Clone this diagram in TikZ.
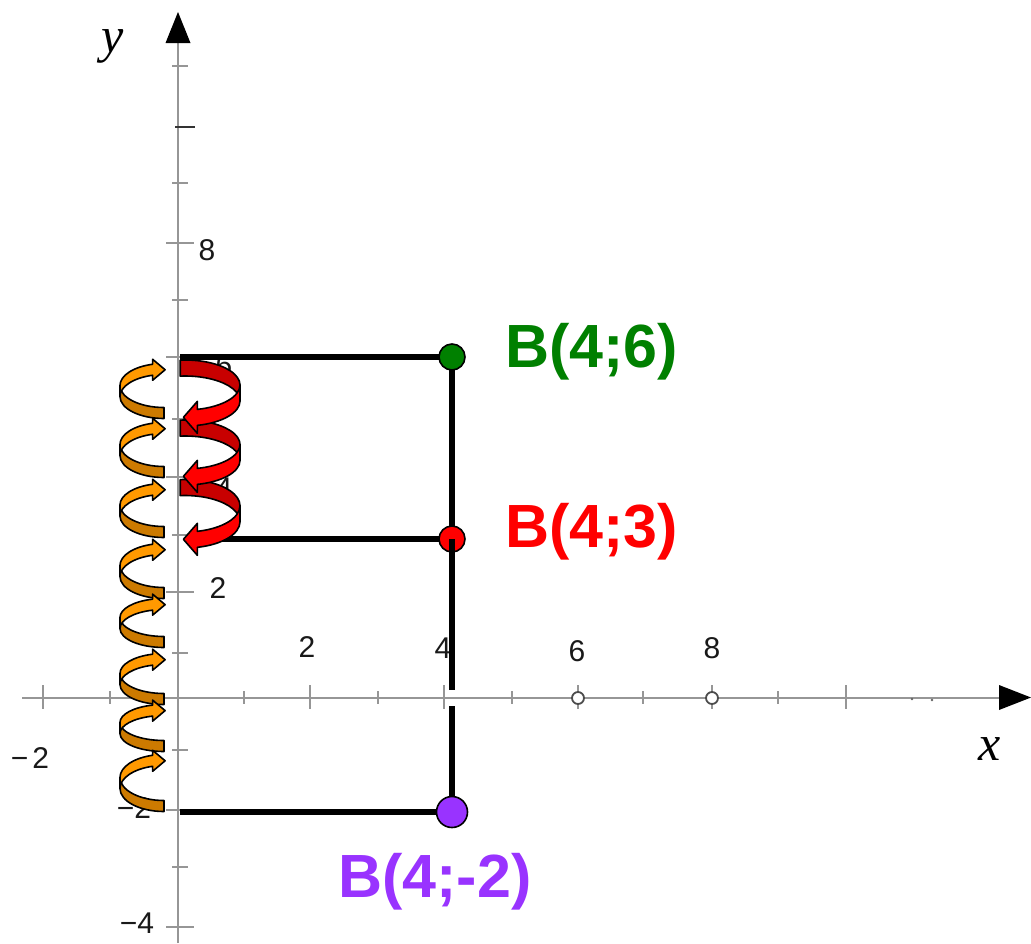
\documentclass[tikz,border=0pt]{standalone}
\usepackage{fontspec}
\setmainfont{Liberation Sans}
\newfontfamily\serifit{Liberation Serif}
\usetikzlibrary{calc}
\definecolor{orL}{RGB}{255,153,0}
\definecolor{orD}{RGB}{204,122,0}
\definecolor{rdD}{RGB}{200,0,0}
\definecolor{rdL}{RGB}{255,0,0}
\definecolor{grn}{RGB}{0,128,0}
\definecolor{purp}{RGB}{153,51,255}
\definecolor{axgray}{RGB}{150,150,150}
\tikzset{
 axisline/.style={draw=axgray, line width=2},
 tickline/.style={draw=axgray, line width=2},
 segline/.style={draw=black, line width=5.5},
 arrline/.style={draw=black, line width=1.6, line join=round},
 dot/.style={circle, draw=black, line width=1.6, inner sep=0pt},
 ticklab/.style={font=\fontsize{30}{30}\selectfont, text=black!90, inner sep=0pt},
 ptlab/.style={font=\fontsize{61}{61}\selectfont\bfseries, anchor=base west, inner sep=0pt},
 axlab/.style={font=\serifit\itshape\fontsize{50}{50}\selectfont, inner sep=0pt},
}
% orange curved arrow: #1 = arrowhead y (px), #2 = flat end y (px)
\newcommand\OrArr[2]{%
 \pgfmathsetmacro\oCy{-(#1+#2)/2}%
 \pgfmathsetmacro\oB{(#2-#1)/2}%
 \begin{scope}[shift={(164,\oCy)}]
  \filldraw[arrline, fill=orD] (-44,5.5) arc[start angle=180, end angle=270, x radius=44, y radius=\oB] -- ++(0,-11) arc[start angle=270, end angle=180, x radius=44, y radius=\oB] -- cycle;
  \filldraw[arrline, fill=orL] (-44,5.5) arc[start angle=180, end angle=105, x radius=44, y radius=\oB] -- ++(0,5) -- ++(12.5,-10.5) -- ++(-12.5,-10.5) -- ++(0,5) arc[start angle=105, end angle=180, x radius=44, y radius=\oB] -- cycle;
 \end{scope}}
% red curved arrow: #1 = flat end y (px), #2 = arrow tip y (px)
\newcommand\RdArr[2]{%
 \pgfmathsetmacro\rCy{-(#1+#2)/2}%
 \pgfmathsetmacro\rB{(#2-#1)/2}%
 \pgfmathsetmacro\rSx{55*cos(95)}%
 \pgfmathsetmacro\rSy{\rB*sin(95)+8}%
 \begin{scope}[shift={(185,\rCy)}]
  \filldraw[arrline, fill=rdD] (\rSx,\rSy) arc[start angle=95, end angle=0, x radius=55, y radius=\rB] -- ++(0,-16) arc[start angle=0, end angle=95, x radius=55, y radius=\rB] -- cycle;
  \filldraw[arrline, fill=rdL] (55,8) arc[start angle=0, end angle=-77, x radius=55, y radius=\rB] -- ++(0,8) -- ++(-14,-16) -- ++(14,-16) -- ++(0,8) arc[start angle=-77, end angle=0, x radius=55, y radius=\rB] -- cycle;
 \end{scope}}
\begin{document}
\begin{tikzpicture}[x=1pt,y=1pt]
\useasboundingbox (0,0) rectangle (1031,-943);
\fill[white] (0,0) rectangle (1031,-943);
% axes
\coordinate (xL) at (22,-698);
\coordinate (xR) at (1000,-698);
\coordinate (yB) at (178,-943);
\coordinate (yT) at (178,-42);
\draw[axisline] (xL) -- (xR);
\draw[axisline] (yB) -- (yT);
\fill[black] (999,-685) -- (1031,-697.5) -- (999,-710) -- cycle;
\fill[black] (165.5,-43) -- (178,-12) -- (190.5,-43) -- cycle;
% y ticks
\foreach \yy in {66,183,300,419,535,653,750,867} \draw[tickline] (172,-\yy) -- (188,-\yy);
\foreach \yy in {243,357,477,592,810,927} \draw[tickline] (166,-\yy) -- (194,-\yy);
\draw[black!80, line width=2.5] (175,-127) -- (195,-127);
% x ticks
\foreach \xx in {110,244,378,512,643,778} \draw[tickline] (\xx,-691) -- (\xx,-704);
\foreach \xx in {43,310,444,578,712,846} \draw[tickline] (\xx,-685) -- (\xx,-709);
\draw[black!70, line width=1.8, fill=white] (578,-698) circle (6);
\draw[black!70, line width=1.8, fill=white] (712,-698) circle (6);
\fill[black!60] (912,-699) circle (1.3);
\fill[black!60] (932,-700) circle (1.3);
% tick labels
\node[ticklab] (lx2) at (307,-647) {2};
\node[ticklab] (lx4) at (443,-648) {4};
\node[ticklab] (lx6) at (577,-651) {6};
\node[ticklab] (lx8) at (712,-648) {8};
\node[ticklab] (lxm2) at (30,-758) {−\kern4pt2};
\node[ticklab] (ly8) at (207,-250) {8};
\node[ticklab] (ly6) at (224,-365) {6};
\node[ticklab] (ly4) at (224,-488) {4};
\node[ticklab] (ly2) at (218,-588) {2};
\node[ticklab] (lym2) at (134,-808) {−2};
\node[ticklab] (lym4) at (137,-923) {−4};
% axis labels
\node[axlab] (ax) at (990,-749) {x};
\node[axlab] (ay) at (113,-46) {y};
% points
\coordinate (P6) at (452,-357);
\coordinate (P3) at (452,-539);
\coordinate (Pm2) at (452,-812);
\coordinate (Y6) at (180,-357);
\coordinate (Y3) at (196,-539);
\coordinate (Ym2) at (180,-812);
\coordinate (G1) at (452,-690);
\coordinate (G2) at (452,-706);
% lines under the arrows
\draw[segline] (Y3) -- (P3);
\draw[segline] (Ym2) -- (Pm2);
\draw[segline] (P6) -- (P3);
% orange arrows
\OrArr{369}{413}
\OrArr{428}{472}
\OrArr{489}{532}
\OrArr{549}{593}
\OrArr{604}{642}
\OrArr{659}{699}
\OrArr{710}{746}
\OrArr{760}{806}
% red arrows
\RdArr{487.5}{540}
\RdArr{428}{477}
\RdArr{368}{418}
% top line over the red arrow
\draw[segline] (Y6) -- (P6);
% dots
\node[dot, fill=grn, minimum size=26] (B6) at (P6) {};
\node[dot, fill=rdL, minimum size=26] (B3) at (P3) {};
\draw[segline] (P3) -- (G1);
\draw[segline] (G2) -- (Pm2);
\node[dot, fill=purp, minimum size=31] (Bm2) at (Pm2) {};
% labels
\node[ptlab, text=grn] (L6) at (505,-367) {B(4;6)};
\node[ptlab, text=rdL] (L3) at (505,-547) {B(4;3)};
\node[ptlab, text=purp] (Lm2) at (338,-897) {B(4;-2)};
\end{tikzpicture}
\end{document}
